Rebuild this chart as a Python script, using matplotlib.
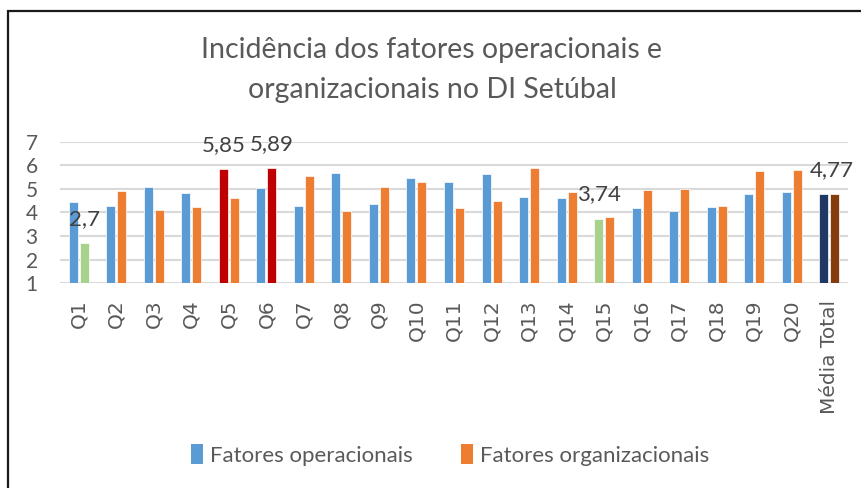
import numpy as np
import matplotlib
matplotlib.use("Agg")
import matplotlib.pyplot as plt
from matplotlib.patches import Rectangle, Patch

# ── data ─────────────────────────────────────────────────────────────────────
categories = ["Q1", "Q2", "Q3", "Q4", "Q5", "Q6", "Q7", "Q8", "Q9", "Q10",
              "Q11", "Q12", "Q13", "Q14", "Q15", "Q16", "Q17", "Q18", "Q19",
              "Q20", "Média Total"]
operacionais = [4.43, 4.29, 5.07, 4.81, 5.85, 5.04, 4.26, 5.70, 4.36, 5.45,
                5.31, 5.63, 4.67, 4.63, 3.74, 4.19, 4.05, 4.22, 4.78, 4.87, 4.77]
organizacionais = [2.70, 4.90, 4.11, 4.22, 4.63, 5.89, 5.56, 4.06, 5.08, 5.28,
                   4.19, 4.49, 5.89, 4.88, 3.80, 4.97, 5.01, 4.26, 5.75, 5.80, 4.77]
y_ticks = [1, 2, 3, 4, 5, 6, 7]

# highlighted bars: (category index, series) -> colour
BLUE, ORANGE = "#5B9BD5", "#ED7D31"
GREEN, RED = "#A9D18E", "#C00000"
NAVY, BROWN = "#1F3864", "#843C0C"
op_colors = [BLUE] * len(categories)
org_colors = [ORANGE] * len(categories)
op_colors[4] = RED
org_colors[5] = RED
org_colors[0] = GREEN
op_colors[14] = GREEN
op_colors[-1] = NAVY
org_colors[-1] = BROWN

# bars that carry a value label: (index, series)
labelled = [(0, "org"), (4, "op"), (5, "org"), (14, "op"), (20, "op")]

# ── figure ───────────────────────────────────────────────────────────────────
W, H = 862, 488
fig = plt.figure(figsize=(W / 100, H / 100), dpi=100, facecolor="white")

# outer frame (only left / top edges fall inside the picture)
fig.add_artist(Rectangle((8 / W, -0.1), 1.2, 1.1 - 10.5 / H, fill=False,
                         lw=1.6, edgecolor="#1A1A1A", transform=fig.transFigure))

fig.text(432 / W, 1 - 50 / H, "Incidência dos fatores operacionais e",
         ha="center", va="center", fontsize=20.5, color="#595959", family="Lato")
fig.text(432 / W, 1 - 90 / H, "organizacionais no DI Setúbal",
         ha="center", va="center", fontsize=20.5, color="#595959", family="Lato")

ax = fig.add_axes([60 / W, 1 - 283 / H, (848 - 60) / W, (283 - 142) / H])
x = np.arange(len(categories))
bw = 0.24
off = 0.147

bars_op = ax.bar(x - off, operacionais, width=bw, bottom=0, color=op_colors,
                 edgecolor="white", linewidth=0.5, zorder=3)
bars_org = ax.bar(x + off, organizacionais, width=bw, bottom=0, color=org_colors,
                  edgecolor="white", linewidth=0.5, zorder=3)

for i, s in labelled:
    bars = bars_op if s == "op" else bars_org
    vals = operacionais if s == "op" else organizacionais
    b = bars[i]
    dx = 6 if i == len(categories) - 1 else 0
    ax.annotate(f"{vals[i]:g}".replace(".", ","),
                (b.get_x() + b.get_width() / 2, vals[i]),
                xytext=(dx, 13), textcoords="offset points",
                ha="center", va="baseline", fontsize=16, color="#404040",
                family="Lato", annotation_clip=False, zorder=4)

ax.set_xlim(-0.5, len(categories) - 0.5)
ax.set_ylim(1, 7)
ax.set_yticks(y_ticks)
ax.set_yticklabels([str(t) for t in y_ticks], fontsize=15, color="#595959",
                   family="Lato")
ax.set_xticks(x)
ax.set_xticklabels(categories, rotation=90, fontsize=14.5, color="#595959",
                   family="DejaVu Sans")
ax.tick_params(axis="both", length=0)
ax.tick_params(axis="y", pad=16)
ax.tick_params(axis="x", pad=12)
for sp in ax.spines.values():
    sp.set_visible(False)
ax.grid(axis="y", color="#D9D9D9", lw=1.5, zorder=0)
ax.set_axisbelow(True)

handles = [Patch(facecolor=BLUE, label="Fatores operacionais"),
           Patch(facecolor=ORANGE, label="Fatores organizacionais")]
fig.legend(handles=handles, loc="center", bbox_to_anchor=(450 / W, 1 - 455 / H),
           ncol=2, frameon=False, prop={"family": "Lato", "size": 16},
           handlelength=0.55, handleheight=1.0, handletextpad=0.3,
           columnspacing=2.2, labelcolor="#595959")

fig.savefig("out.png", dpi=100, facecolor="white")
